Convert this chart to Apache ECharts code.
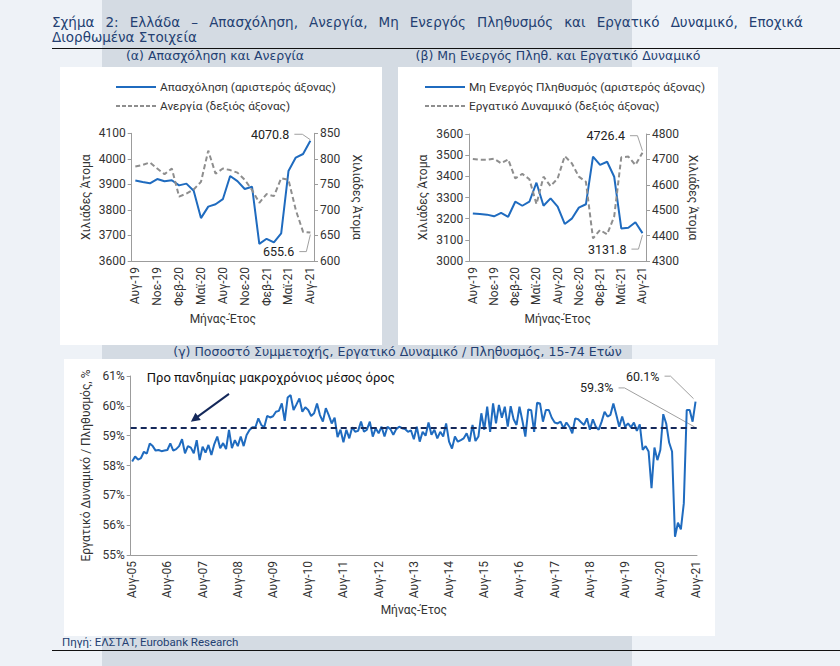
<!DOCTYPE html>
<html><head><meta charset="utf-8">
<script src="https://cdn.jsdelivr.net/npm/echarts@6/dist/echarts.min.js"></script>
<style>
body{margin:0;}
#wrap{position:relative;width:840px;height:666px;background:#eef2f7;overflow:hidden;font-family:"DejaVu Sans","Noto Sans",sans-serif;}
.abs{position:absolute;}
.hd{color:#233f72;white-space:nowrap;}
</style></head><body>
<div id="wrap">
 <div class="abs" style="left:102px;top:0;width:530px;height:666px;background:#d4dbe3"></div>
 <div class="abs" style="left:52px;top:48px;width:788px;height:1px;background:#111"></div>
 <div class="abs" style="left:52px;top:650px;width:788px;height:1px;background:#111"></div>
 <div class="abs hd" style="left:62px;top:635px;font-size:11.5px;line-height:14px;font-family:Roboto,sans-serif;">Πηγή: ΕΛΣΤΑΤ, Eurobank Research</div>
 <div class="abs" style="left:60px;top:67px;width:322px;height:278px;background:#fff"></div>
 <div class="abs" style="left:398px;top:67px;width:320px;height:278px;background:#fff"></div>
 <div class="abs" style="left:64px;top:359px;width:651px;height:277px;background:#fff"></div>
 <div class="abs hd" style="left:52px;top:15px;width:751px;font-size:13.5px;line-height:15px;text-align:justify;text-align-last:justify;">Σχήμα 2: Ελλάδα – Απασχόληση, Ανεργία, Μη Ενεργός Πληθυσμός και Εργατικό Δυναμικό, Εποχικά</div>
 <div class="abs hd" style="left:52px;top:30px;font-size:13.5px;line-height:15px;">Διορθωμένα Στοιχεία</div>
 <div class="abs hd" style="left:60px;top:48px;width:310px;text-align:center;font-size:12.5px;line-height:16px;">(α) Απασχόληση και Ανεργία</div>
 <div class="abs hd" style="left:398px;top:48px;width:320px;text-align:center;font-size:12.5px;line-height:16px;">(β) Μη Ενεργός Πληθ. και Εργατικό Δυναμικό</div>
 <div class="abs hd" style="left:100px;top:344px;width:595px;text-align:center;font-size:12.5px;line-height:16px;">(γ) Ποσοστό Συμμετοχής, Εργατικό Δυναμικό / Πληθυσμός, 15-74 Ετών</div>
 <div id="chart" class="abs" style="left:0;top:0;width:840px;height:666px"></div>
</div>
<script>
// ---- data ----
const MONTHS = ['Ιαν','Φεβ','Μαρ','Απρ','Μαϊ','Ιουν','Ιουλ','Αυγ','Σεπ','Οκτ','Νοε','Δεκ'];
function monthCats(startYear, startMonth, count){
  const out=[]; let y=startYear, m=startMonth;
  for(let k=0;k<count;k++){ out.push(MONTHS[m]+'-'+String(y%100).padStart(2,'0')); m++; if(m>11){m=0;y++;} }
  return out;
}
const catsAB = monthCats(2019, 7, 25);   // Αυγ-19 ... Αυγ-21
const catsC  = monthCats(2005, 7, 193);  // Αυγ-05 ... Αυγ-21

const employment = [3915,3909,3904,3921,3912,3916,3896,3903,3875,3768,3813,3822,3842,3933,3913,3882,3891,3667,3687,3673,3708,3952,4005,4019,4070.8];
const unemployment = [785,788,793,781,770,781,726,732,740,755,816,771,781,778,773,759,739,714,731,727,762,759,700,657,655.6];
const inactive = [3224,3222,3219,3211,3227,3209,3280,3261,3280,3370,3261,3296,3257,3175,3200,3252,3268,3493,3454,3469,3398,3154,3157,3183,3131.8];
const laborForce = [4702,4699,4698,4703,4685,4700,4625,4643,4622,4524,4632,4595,4625,4713,4685,4632,4612,4389,4422,4405,4475,4708,4711,4678,4726.4];
const participation = [
 58.13,58.30,58.20,58.25,58.46,58.40,58.74,58.65,58.50,58.52,58.48,58.50,
 58.52,58.74,58.50,58.55,58.65,58.88,58.41,58.65,58.60,58.41,58.85,58.18,
 58.63,58.43,58.69,58.35,58.72,58.97,58.58,58.75,58.55,59.19,58.58,58.85,
 58.65,58.97,58.65,59.02,59.19,59.28,59.28,59.58,59.36,59.28,59.66,59.61,
 59.65,59.80,59.83,60.08,59.50,60.28,60.36,59.86,60.05,60.25,59.80,59.95,
 59.86,59.66,59.75,60.08,59.69,59.47,59.92,59.69,59.41,59.60,58.95,59.20,
 58.78,59.20,58.91,59.28,59.13,59.16,59.47,59.13,59.20,59.47,58.97,59.25,
 59.08,59.30,58.97,59.30,59.22,59.03,59.22,59.30,59.25,59.22,59.13,59.18,
 58.88,59.30,58.80,59.13,59.00,59.44,59.03,59.20,58.91,59.13,58.97,59.41,
 58.80,58.57,58.97,58.80,58.85,58.91,59.08,58.80,59.36,58.82,58.97,59.75,
 59.20,59.97,59.13,60.08,59.41,60.03,59.60,59.97,59.30,59.99,59.55,59.36,
 59.97,59.50,58.97,59.88,59.85,59.13,60.10,60.08,59.47,59.86,59.86,59.60,
 59.44,59.41,59.47,59.25,59.44,59.30,59.08,59.58,59.55,59.45,59.36,59.58,
 59.20,59.55,59.30,59.20,59.47,59.80,59.64,59.70,60.08,59.70,59.30,59.64,
 59.30,59.41,59.28,59.44,59.16,59.38,58.52,58.65,58.47,57.24,58.60,58.18,
 58.52,59.72,59.41,58.77,58.47,55.61,56.08,55.86,56.73,59.86,59.86,59.47,
 60.14];
const PRE_AVG = 59.26;
const NAMES = {
  emp:'Απασχόληση (αριστερός άξονας)', unemp:'Ανεργία (δεξιός άξονας)',
  inact:'Μη Ενεργός Πληθυσμός (αριστερός άξονας)', lab:'Εργατικό Δυναμικό (δεξιός άξονας)'
};
const AVG_NOTE = 'Προ πανδημίας μακροχρόνιος μέσος όρος';

// ---- styles ----
const FONT = 'Roboto, "Noto Sans", sans-serif';
const BLUE = '#1f6bbf', GREY = '#8e8e8e', NAVY = '#14285a', AX = '#9c9c9c', TXT = '#333';
const plain = v => String(v);

function xAx(grid, data, interval, nameGap){
  return {type:'category', gridIndex:grid, data:data, boundaryGap:true,
    axisLine:{lineStyle:{color:AX}},
    axisTick:{alignWithLabel:true, interval:interval, length:4, lineStyle:{color:AX}},
    axisLabel:{interval:interval, rotate:90, color:TXT, fontSize:12, fontFamily:FONT, margin:6},
    name:'Μήνας-Έτος', nameLocation:'middle', nameGap:nameGap,
    nameTextStyle:{color:TXT, fontSize:12, fontFamily:FONT}};
}
function yAx(grid, min, max, step, name, gap, rot, fmt){
  return {type:'value', gridIndex:grid, min:min, max:max, interval:step,
    axisLine:{show:true, lineStyle:{color:AX}},
    axisTick:{show:true, length:4, lineStyle:{color:AX}},
    splitLine:{show:false},
    axisLabel:{color:TXT, fontSize:12, fontFamily:FONT, margin:6, formatter:fmt||plain},
    name:name, nameLocation:'middle', nameGap:gap, nameRotate:rot,
    nameTextStyle:{color:TXT, fontSize:12, fontFamily:FONT}};
}
const chart = echarts.init(document.getElementById('chart'), null, {renderer:'svg'});
const solid = {color:BLUE, width:2};
const dashed = {color:GREY, width:2, type:[5,3]};
chart.setOption({
  animation:false,
  textStyle:{fontFamily:FONT},
  grid:[
    {left:131.7, top:133.3, width:182.3, height:127.7},
    {left:469.3, top:134, width:176.7, height:127},
    {left:130.7, top:376, width:566.3, height:179}
  ],
  xAxis:[ xAx(0, catsAB, 2, 52), xAx(1, catsAB, 2, 52), xAx(2, catsC, 11, 49) ],
  yAxis:[
    yAx(0, 3600, 4100, 100, 'Χιλιάδες Άτομα', 40, 90),
    yAx(0, 600, 850, 50, 'Χιλιάδες Άτομα', 37, -90),
    yAx(1, 3000, 3600, 100, 'Χιλιάδες Άτομα', 40, 90),
    yAx(1, 4300, 4800, 100, 'Χιλιάδες Άτομα', 41, -90),
    yAx(2, 55, 61, 1, 'Εργατικό Δυναμικό / Πληθυσμός, %', 34, 90, '{value}%')
  ],
  series:[
    {name:NAMES.emp, type:'line', xAxisIndex:0, yAxisIndex:0, data:employment, symbol:'none', lineStyle:solid, itemStyle:{color:BLUE}, z:3},
    {name:NAMES.unemp, type:'line', xAxisIndex:0, yAxisIndex:1, data:unemployment, symbol:'none', lineStyle:dashed, itemStyle:{color:GREY}},
    {name:NAMES.inact, type:'line', xAxisIndex:1, yAxisIndex:2, data:inactive, symbol:'none', lineStyle:solid, itemStyle:{color:BLUE}, z:3},
    {name:NAMES.lab, type:'line', xAxisIndex:1, yAxisIndex:3, data:laborForce, symbol:'none', lineStyle:dashed, itemStyle:{color:GREY}},
    {name:'Ποσοστό Συμμετοχής', type:'line', xAxisIndex:2, yAxisIndex:4, data:participation, symbol:'none',
     lineStyle:{color:BLUE, width:2}, itemStyle:{color:BLUE},
     markLine:{silent:true, symbol:'none', label:{show:false}, animation:false,
       lineStyle:{color:NAVY, width:2, type:[6,4]}, data:[{yAxis:PRE_AVG}]}}
  ]
});

// ---- legends and annotations ----
const G = [];
function legendRow(x, y, text, style){
  G.push({type:'line', silent:true, shape:{x1:x, y1:y, x2:x+40, y2:y}, style:style});
  G.push({type:'text', silent:true, style:{text:text, x:x+44, y:y, fill:TXT, font:'11.8px '+FONT, textAlign:'left', textVerticalAlign:'middle'}});
}
const sLine = {stroke:BLUE, lineWidth:2};
const dLine = {stroke:GREY, lineWidth:2, lineDash:[4,2]};
legendRow(116, 87, NAMES.emp, sLine);
legendRow(116, 106, NAMES.unemp, dLine);
legendRow(425, 87, NAMES.inact, sLine);
legendRow(425, 106, NAMES.lab, dLine);

function px(si, cat, val){ return chart.convertToPixel({seriesIndex:si}, [cat, val]); }
const LEAD = '#a0a0a0';
function note(p, text, tdx, tdy, pts){
  G.push({type:'text', silent:true, style:{text:text, x:p[0]+tdx, y:p[1]+tdy, fill:'#222',
    font:'12.5px '+FONT, textAlign:'right', textVerticalAlign:'middle'}});
  G.push({type:'polyline', silent:true, shape:{points:pts.map(q=>[p[0]+q[0], p[1]+q[1]])},
    style:{stroke:LEAD, lineWidth:1, fill:null}});
}
const nA = catsAB.length-1, nC = catsC.length-1;
let p;
p = px(0, catsAB[nA], employment[nA]);   note(p, employment[nA].toFixed(1), -21, -6.5, [[-16,-6.5],[-8,-6.5],[0,-1]]);
p = px(1, catsAB[nA], unemployment[nA]); note(p, unemployment[nA].toFixed(1), -16, 19, [[-11,19],[-4,19],[0,2]]);
p = px(3, catsAB[nA], laborForce[nA]);   note(p, laborForce[nA].toFixed(1), -17.5, -17, [[-12.5,-17],[-5,-17],[0,-2]]);
p = px(2, catsAB[nA], inactive[nA]);     note(p, inactive[nA].toFixed(1), -16, 16, [[-11,16],[-4,16],[0,2]]);
p = px(4, catsC[nC], participation[nC]); note(p, participation[nC].toFixed(1)+'%', -36, -25.5, [[-31,-25.5],[-25,-25.5],[-2,-3]]);
p = px(4, catsC[nC], PRE_AVG);           note(p, PRE_AVG.toFixed(1)+'%', -82, -40, [[-77,-40],[-71,-40],[-1,-1]]);

const tp = px(4, catsC[5], 61);
G.push({type:'text', silent:true, style:{text:AVG_NOTE, x:tp[0], y:tp[1]+1, fill:'#111',
  font:'13px '+FONT, textAlign:'left', textVerticalAlign:'middle'}});
const T = px(4, catsC[33], 60.40), H = px(4, catsC[20], 59.47);
const dx = H[0]-T[0], dy = H[1]-T[1], L = Math.hypot(dx,dy), ux = dx/L, uy = dy/L;
G.push({type:'line', silent:true, shape:{x1:T[0], y1:T[1], x2:H[0]-ux*6, y2:H[1]-uy*6}, style:{stroke:NAVY, lineWidth:2}});
G.push({type:'polygon', silent:true, shape:{points:[[H[0],H[1]],[H[0]-ux*9-uy*4.5,H[1]-uy*9+ux*4.5],[H[0]-ux*9+uy*4.5,H[1]-uy*9-ux*4.5]]},
  style:{fill:NAVY}});
chart.setOption({graphic:G});
</script>
</body></html>
